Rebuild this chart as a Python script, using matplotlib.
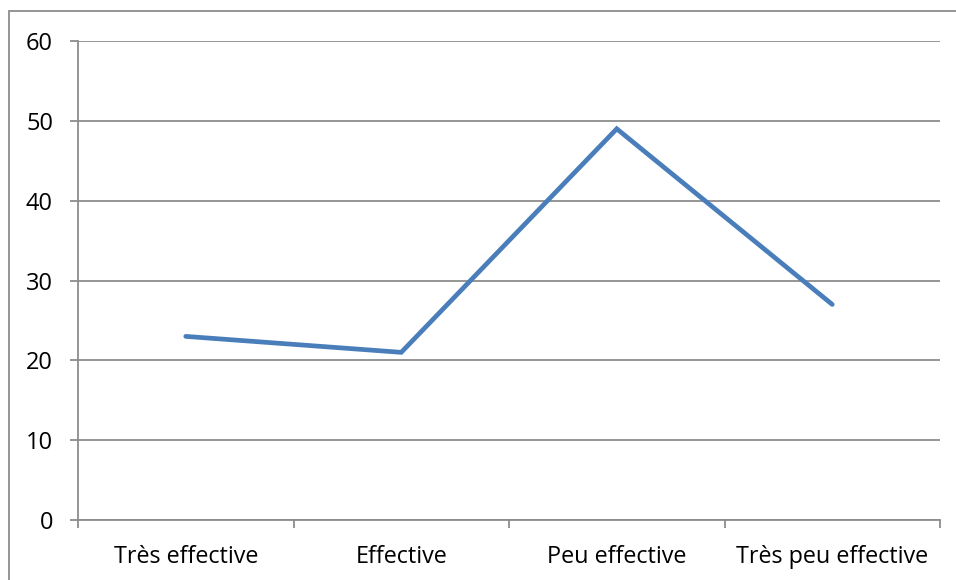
import matplotlib
matplotlib.use("Agg")
import matplotlib.pyplot as plt
from matplotlib.patches import Rectangle

categories = ["Très effective", "Effective", "Peu effective", "Très peu effective"]
values = [23, 21, 49, 27]
y_ticks = [0, 10, 20, 30, 40, 50, 60]

W, H = 956, 580
fig = plt.figure(figsize=(W / 100, H / 100), dpi=100)
plt.rcParams['font.family'] = ['Open Sans', 'DejaVu Sans']

# plot area in pixel coordinates
left, right, top, bottom = 78, 940, 41, 520
ax = fig.add_axes([left / W, 1 - bottom / H, (right - left) / W, (bottom - top) / H])

grid_color = "#8c8c8c"
x = [i + 0.5 for i in range(len(categories))]
ax.plot(x, values, color="#4a7ebb", linewidth=3.4, solid_capstyle="round", solid_joinstyle="miter", zorder=3)

ax.set_xlim(0, len(categories))
ax.set_ylim(0, 60)
ax.set_yticks(y_ticks)
ax.set_yticklabels([str(v) for v in y_ticks], fontsize=17)
ax.yaxis.grid(True, color=grid_color, linewidth=1.3)
ax.set_axisbelow(True)

ax.set_xticks(range(len(categories) + 1))
ax.set_xticklabels([])
ax.set_xticks(x, minor=True)
ax.set_xticklabels(categories, minor=True, fontsize=16.8)
ax.tick_params(axis="x", which="minor", length=0, pad=18)
ax.tick_params(axis="x", which="major", length=6, width=1.3, color=grid_color)
ax.tick_params(axis="y", length=6, width=1.3, color=grid_color, pad=12)

for side in ["top", "right"]:
    ax.spines[side].set_visible(False)
for side in ["left", "bottom"]:
    ax.spines[side].set_color(grid_color)
    ax.spines[side].set_linewidth(1.3)

# outer chart border
fig.patches.append(Rectangle((9 / W, -0.1), 1.2, 1 - 11 / H + 0.1, transform=fig.transFigure,
                             fill=False, edgecolor="#8c8c8c", linewidth=1.3))

fig.savefig("out.png", dpi=100, facecolor="white")
